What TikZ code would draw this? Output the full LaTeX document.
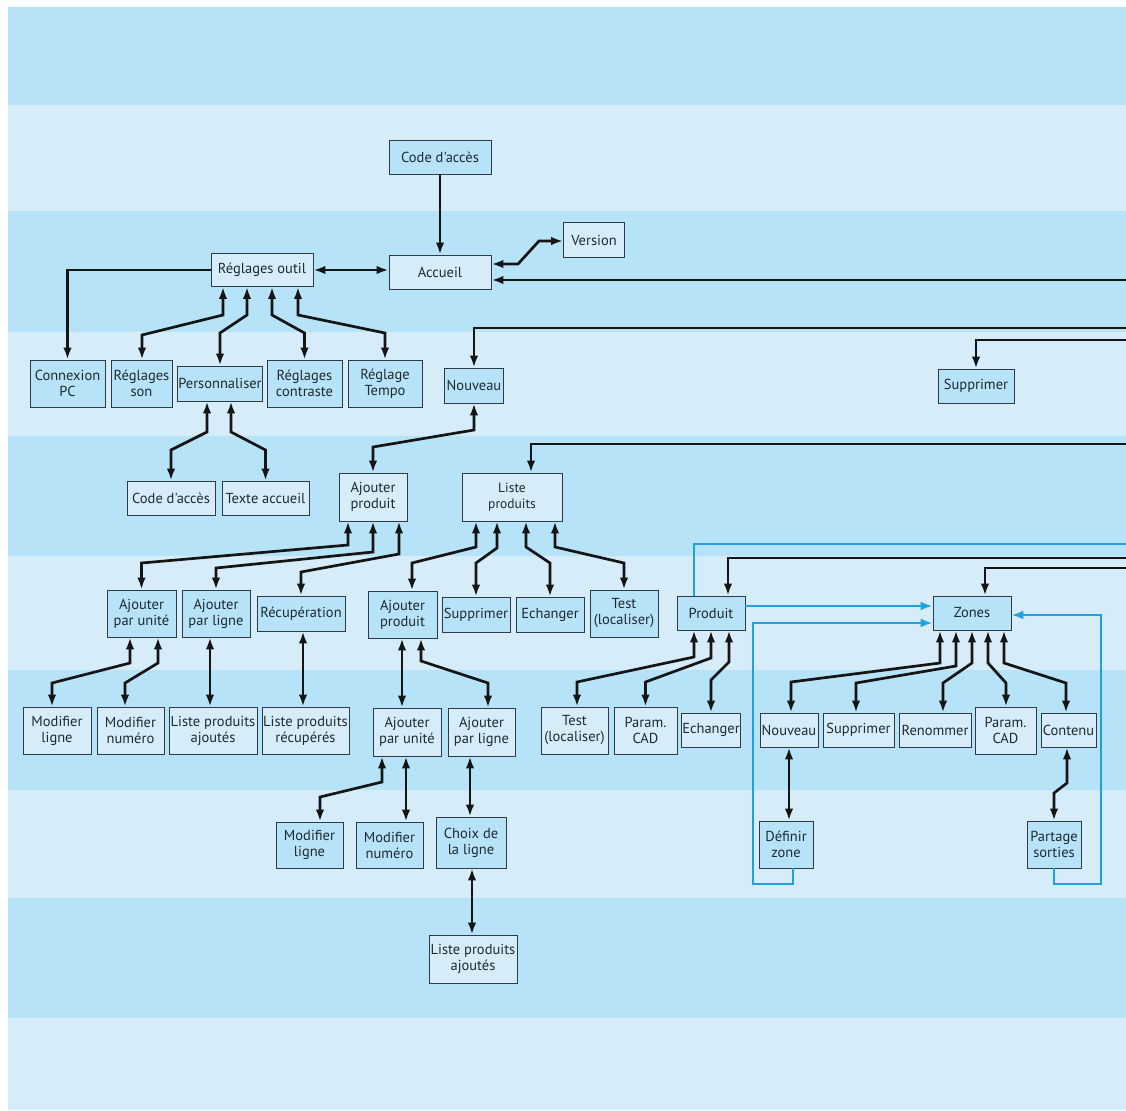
\documentclass[tikz,border=0pt]{standalone}
\usepackage{fontspec}
\setmainfont{PT Sans}[Ligatures=TeXOff]
\usetikzlibrary{arrows.meta}
\definecolor{dk}{HTML}{B7E3F8}
\definecolor{lt}{HTML}{D6EDF9}
\definecolor{bordc}{HTML}{2E3B44}
\definecolor{txtc}{HTML}{1F2A30}
\definecolor{lnc}{HTML}{151515}
\definecolor{blu}{HTML}{1EA0E1}
\tikzset{
  box/.style={draw=bordc, line width=0.9pt, inner sep=0.5pt, align=center, text=txtc,
    font=\fontsize{14.5}{16}\selectfont},
  bd/.style={box, fill=dk},
  bl/.style={box, fill=lt},
  sz/.style 2 args={minimum width=#1pt, minimum height=#2pt},
  con/.style={line width=2.7pt, draw=lnc},
  arr/.style={con, -{Latex[length=12pt,width=8.5pt]}},
  darr/.style={con, {Latex[length=12pt,width=8.5pt]}-{Latex[length=12pt,width=8.5pt]}},
  bline/.style={line width=2.4pt, draw=blu},
  barr/.style={bline, -{Latex[length=12pt,width=9pt]}},
}
\begin{document}
\begin{tikzpicture}[x=1pt,y=-1pt]
\useasboundingbox (0,0) rectangle (1126,1110);
\fill[white] (0,0) rectangle (1126,1110);
\fill[dk] (8,7) rectangle (1126,105);
\fill[lt] (8,105) rectangle (1126,211);
\fill[dk] (8,211) rectangle (1126,332);
\fill[lt] (8,332) rectangle (1126,436);
\fill[dk] (8,436) rectangle (1126,556);
\fill[lt] (8,556) rectangle (1126,670);
\fill[dk] (8,670) rectangle (1126,790);
\fill[lt] (8,790) rectangle (1126,898);
\fill[dk] (8,898) rectangle (1126,1018);
\fill[lt] (8,1018) rectangle (1126,1110);

% nodes
\node[bd, sz={102}{34}] (cda1) at (440,157) {Code d'accès};
\node[bl, sz={61}{35}] (ver) at (594,240) {Version};
\node[bl, sz={102}{34}] (acc) at (440,272) {Accueil};
\node[bl, sz={102}{33}] (ro) at (262,270) {Réglages outil};

\node[bd, sz={75}{47}] (cpc) at (67.5,383.5) {Connexion\\PC};
\node[bd, sz={61}{47}] (rson) at (141.5,383.5) {Réglages\\son};
\node[bd, sz={82}{35}] (pers) at (220,383.5) {Personnaliser};
\node[bd, sz={75}{47}] (rcon) at (304.5,383.5) {Réglages\\contraste};
\node[bd, sz={74}{47}] (rtem) at (385,383.5) {Réglage\\Tempo};
\node[bd, sz={59}{35}] (nouv1) at (474,385.5) {Nouveau};
\node[bd, sz={76}{34}] (sup1) at (976,386) {Supprimer};

\node[bl, sz={88}{34}] (cda2) at (171,498) {Code d'accès};
\node[bl, sz={87}{34}] (txt) at (265.5,498) {Texte accueil};
\node[bl, sz={68}{48}] (ap1) at (373,497) {Ajouter\\produit};
\node[bl, sz={100}{48}, font=\fontsize{13.5}{16}\selectfont] (lp) at (512,497) {Liste\\produits};

\node[bd, sz={69}{47}] (apu1) at (141.5,613.5) {Ajouter\\par unité};
\node[bd, sz={68}{47}] (apl1) at (216,613.5) {Ajouter\\par ligne};
\node[bd, sz={88}{35}] (rec) at (301,613.5) {Récupération};
\node[bd, sz={69}{47}] (ap2) at (402.5,614.5) {Ajouter\\produit};
\node[bd, sz={68}{35}] (sup2) at (476,614.5) {Supprimer};
\node[bd, sz={68}{35}] (ech1) at (550,614.5) {Echanger};
\node[bd, sz={68}{47}] (test1) at (624,613.5) {Test\\(localiser)};
\node[bd, sz={68}{34}] (prod) at (711,613) {Produit};
\node[bd, sz={78}{34}] (zones) at (972,613) {Zones};

\node[bl, sz={68}{47}] (ml1) at (57,730.5) {Modifier\\ligne};
\node[bl, sz={67}{47}] (mn1) at (130.5,730.5) {Modifier\\numéro};
\node[bl, sz={88}{47}] (lpa1) at (213,730.5) {Liste produits\\ajoutés};
\node[bl, sz={87}{47}] (lpr) at (305.5,730.5) {Liste produits\\récupérés};
\node[bl, sz={68}{48}] (apu2) at (407,732) {Ajouter\\par unité};
\node[bl, sz={67}{48}] (apl2) at (481.5,732) {Ajouter\\par ligne};
\node[bl, sz={67}{47}] (test2) at (574.5,730.5) {Test\\(localiser)};
\node[bl, sz={63}{47}] (pcad1) at (645.5,730.5) {Param.\\CAD};
\node[bl, sz={58}{34}] (ech2) at (711,730) {Echanger};
\node[bl, sz={58}{34}] (nouv2) at (789,730) {Nouveau};
\node[bl, sz={71}{34}] (sup3) at (858.5,730) {Supprimer};
\node[bl, sz={72}{34}] (ren) at (935,730) {Renommer};
\node[bl, sz={61}{47}] (pcad2) at (1005.5,730.5) {Param.\\CAD};
\node[bl, sz={55}{34}] (cont) at (1068.5,730) {Contenu};

\node[bd, sz={67}{46}] (ml2) at (309.5,845) {Modifier\\ligne};
\node[bd, sz={67}{46}] (mn2) at (389.5,845) {Modifier\\numéro};
\node[bd, sz={70}{51}] (choix) at (471,842.5) {Choix de\\la ligne};
\node[bd, sz={54}{47}] (defz) at (786,844.5) {Définir\\zone};
\node[bd, sz={54}{47}] (part) at (1054,844.5) {Partage\\sorties};

\node[bl, sz={88}{48}] (lpa2) at (473,959) {Liste produits\\ajoutés};

% free ends at the right edge
\coordinate (eA) at (1126,280);
\coordinate (eN) at (1126,328);
\coordinate (eS) at (1126,340);
\coordinate (eL) at (1126,444);
\coordinate (eB) at (1126,544);
\coordinate (eP) at (1126,558);
\coordinate (eZ) at (1126,568);

% connectors
\draw[arr] (cda1.south) -- (acc.north);
\draw[darr] (acc.east |- 0,264) -- (518,264) -- (539,241) -- (ver.west |- 0,241);
\draw[arr] (eA) -- (acc.east |- eA);
\draw[darr] (ro.east) -- (ro.east -| acc.west);
\draw[arr] (ro.west) -| (cpc.north);
\draw[darr] (223,0 |- ro.south) -- (223,315) -- (142,335) -- (142,0 |- rson.north);
\draw[darr] (247,0 |- ro.south) -- (247,315) -- (220,333) -- (pers.north);
\draw[darr] (272,0 |- ro.south) -- (272,315) -- (304.5,333) -- (rcon.north);
\draw[darr] (298,0 |- ro.south) -- (298,315) -- (385,333) -- (rtem.north);

\draw[darr] (207,0 |- pers.south) -- (207,432) -- (171,450) -- (cda2.north);
\draw[darr] (231,0 |- pers.south) -- (231,432) -- (265.5,450) -- (txt.north);

\draw[arr] (eN) -| (nouv1.north);
\draw[arr] (eS) -| (sup1.north);
\draw[darr] (nouv1.south) -- (474,430) -- (373,447) -- (ap1.north);
\draw[arr] (eL) -- (531,444) -- (531,0 |- lp.north);

\draw[darr] (348,0 |- ap1.south) -- (348,545) -- (141.5,563) -- (apu1.north);
\draw[darr] (373,0 |- ap1.south) -- (373,552) -- (216,568) -- (apl1.north);
\draw[darr] (399,0 |- ap1.south) -- (399,554) -- (301,572) -- (rec.north);
\draw[darr] (476,0 |- lp.south) -- (476,547) -- (412,563) -- (412,0 |- ap2.north);
\draw[darr] (497,0 |- lp.south) -- (497,548) -- (476,563) -- (sup2.north);
\draw[darr] (526,0 |- lp.south) -- (526,547) -- (550,563) -- (ech1.north);
\draw[darr] (555,0 |- lp.south) -- (555,547) -- (624,563) -- (test1.north);

\draw[darr] (130,0 |- apu1.south) -- (130,663) -- (52,683) -- (52,0 |- ml1.north);
\draw[darr] (158,0 |- apu1.south) -- (158,663) -- (125,683) -- (125,0 |- mn1.north);
\draw[darr] (210,0 |- apl1.south) -- (210,0 |- lpa1.north);
\draw[darr] (303,0 |- rec.south) -- (303,0 |- lpr.north);

\draw[darr] (402,0 |- ap2.south) -- (402,0 |- apu2.north);
\draw[darr] (421,0 |- ap2.south) -- (421,661) -- (488,683) -- (488,0 |- apl2.north);
\draw[darr] (382,0 |- apu2.south) -- (382,782) -- (320,797) -- (320,0 |- ml2.north);
\draw[darr] (406,0 |- apu2.south) -- (406,0 |- mn2.north);
\draw[darr] (470,0 |- apl2.south) -- (470,0 |- choix.north);
\draw[darr] (472,0 |- choix.south) -- (472,0 |- lpa2.north);

\draw[arr] (eP) -- (728,558) -- (728,0 |- prod.north);
\draw[arr] (eZ) -- (985,568) -- (985,0 |- zones.north);

\draw[darr] (694,0 |- prod.south) -- (694,657) -- (577,682) -- (577,0 |- test2.north);
\draw[darr] (711,0 |- prod.south) -- (711,658) -- (645.5,682) -- (pcad1.north);
\draw[darr] (729,0 |- prod.south) -- (729,662) -- (711,680) -- (ech2.north);

\draw[darr] (940,0 |- zones.south) -- (940,663) -- (791,682) -- (791,0 |- nouv2.north);
\draw[darr] (956,0 |- zones.south) -- (956,666) -- (856,683) -- (856,0 |- sup3.north);
\draw[darr] (972,0 |- zones.south) -- (972,663) -- (943,683) -- (943,0 |- ren.north);
\draw[darr] (988,0 |- zones.south) -- (988,663) -- (1006,683) -- (1006,0 |- pcad2.north);
\draw[darr] (1004,0 |- zones.south) -- (1004,663) -- (1066,683) -- (1066,0 |- cont.north);

\draw[darr] (789,0 |- nouv2.south) -- (789,0 |- defz.north);
\draw[darr] (1067,0 |- cont.south) -- (1067,783) -- (1054,793) -- (part.north);

% blue connectors
\draw[bline] (694,0 |- prod.north) -- (694,544) -- (eB);
\draw[barr] (prod.east |- 0,606) -- (zones.west |- 0,606);
\draw[barr] (793,0 |- defz.south) -- (793,884) -- (753,884) -- (753,623) -- (zones.west |- 0,623);
\draw[barr] (1054,0 |- part.south) -- (1054,884) -- (1101,884) -- (1101,615) -- (zones.east |- 0,615);
\end{tikzpicture}
\end{document}
